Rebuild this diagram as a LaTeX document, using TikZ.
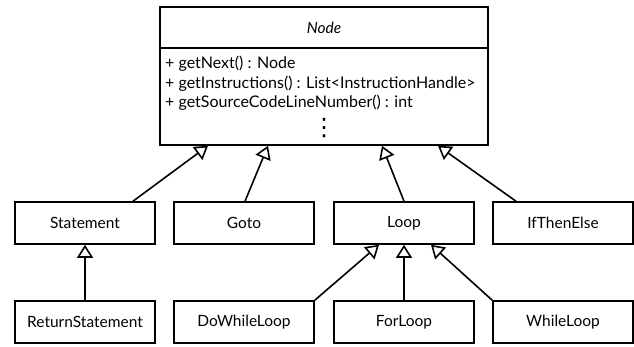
\documentclass[tikz,border=0pt]{standalone}
\usepackage{fontspec}
\setmainfont{Lato}
\newfontfamily\symfont{DejaVu Sans}
\usepackage{tikz}
\usetikzlibrary{arrows.meta,shadows}
\tikzstyle{classbox} = [draw=black, fill=white, line width=1.6pt, rectangle, minimum width=140pt, minimum height=42pt, font=\fontsize{15.5}{18}\selectfont, drop shadow={opacity=0.35, shadow xshift=1.2pt, shadow yshift=-1.2pt}]
\tikzstyle{inherits} = [line width=1.6pt, -{Triangle[open, length=13pt, width=16pt, line width=1.6pt]}]

\begin{document}
\begin{tikzpicture}[x=1pt, y=-1pt]
\useasboundingbox (0,0) rectangle (634,346);
% abstract class
\node [classbox, minimum width=328pt, minimum height=138pt] (node) at (324,76) {};
\draw [line width=1.6pt] (node.west |- 0,48) -- (node.east |- 0,48);
\node [font=\fontsize{15.5}{18}\selectfont\itshape] (title) at (324,28) {Node};
\node [anchor=north west, align=left, inner sep=0pt, font=\fontsize{16}{19.5}\selectfont] (ops) at (165,56) {%
    + getNext() : Node\\
    + getInstructions() : List<InstructionHandle>\\
    + getSourceCodeLineNumber() : int};
\node [font=\fontsize{24}{26}\selectfont\symfont, inner sep=0pt] (dots) at (324,128) {⋮};
% subclasses
\node [classbox] (statement) at (85,223) {Statement};
\node [classbox] (goto) at (244,223) {Goto};
\node [classbox] (loop) at (404,223) {Loop};
\node [classbox] (ifthenelse) at (563,223) {IfThenElse};
\node [classbox] (return) at (85,322) {ReturnStatement};
\node [classbox] (dowhile) at (244,322) {DoWhileLoop};
\node [classbox] (forloop) at (404,322) {ForLoop};
\node [classbox] (whileloop) at (563,322) {WhileLoop};
% generalisations
\draw [inherits] ([xshift=48pt]statement.north) -- ([xshift=-116pt]node.south);
\draw [inherits] ([xshift=1pt]goto.north) -- ([xshift=-56pt]node.south);
\draw [inherits] (loop.north) -- ([xshift=58pt]node.south);
\draw [inherits] ([xshift=-47pt]ifthenelse.north) -- ([xshift=114pt]node.south);
\draw [inherits] (return.north) -- (statement.south);
\draw [inherits] (dowhile.north east) -- ([xshift=-25pt]loop.south);
\draw [inherits] (forloop.north) -- (loop.south);
\draw [inherits] (whileloop.north west) -- ([xshift=27pt]loop.south);
\end{tikzpicture}
\end{document}
